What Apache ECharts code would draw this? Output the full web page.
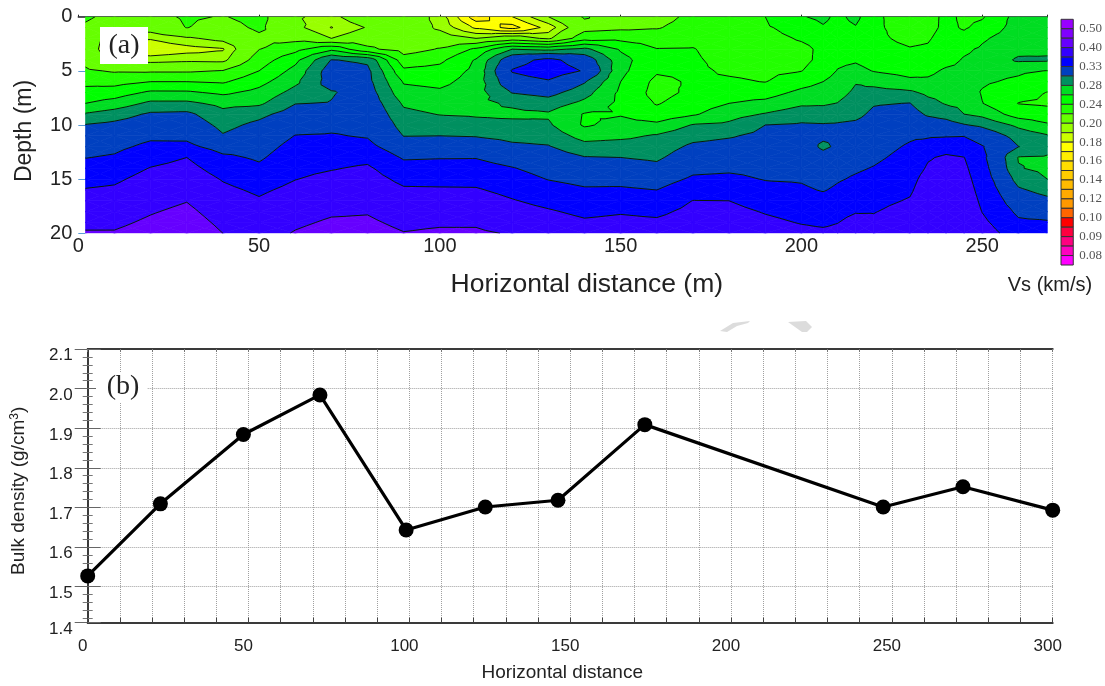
<!DOCTYPE html>
<html><head><meta charset="utf-8"><style>html,body{margin:0;padding:0;background:#fff}#c{width:1105px;height:686px}</style>
<script src="https://cdn.jsdelivr.net/npm/echarts@6/dist/echarts.min.js"></script></head><body><div id="c"></div><script>
// Panel (a): Vs (km/s) read from the section, one list per station, depth 0..20 m
const stations=[2,10,20,30,40,50,60,70,80,90,100,110,120,130,140,150,160,170,180,190,200,206,210,215,220,230,235,240,245,250,260,268];
const depths=[0,1,2,3,4,5,6,7,8,9,10,11,12,13,14,15,16,17,18,19,20];
const vsByStation=[
[.224,.216,.212,.212,.215,.2227,.2345,.247,.26,.282,.301,.3105,.3198,.3292,.34,.3508,.3616,.372,.3824,.3927,.403],
[.212,.205,.19,.185,.196,.218,.233,.25,.268,.29,.3055,.3145,.3236,.3332,.344,.3546,.3648,.374,.384,.393,.403],
[.214,.207,.191,.182,.195,.2175,.24,.2633,.2844,.3032,.3139,.3246,.3364,.3492,.3613,.3716,.3805,.3883,.3973,.406,.415],
[.2225,.2205,.198,.186,.197,.2175,.24,.263,.2844,.3047,.3141,.3234,.3369,.36,.3695,.3793,.389,.3988,.408,.417,.426],
[.219,.212,.204,.189,.196,.2208,.2376,.2562,.2745,.2858,.2942,.3017,.3183,.3356,.3467,.3578,.3667,.375,.3833,.3917,.40],
[.226,.2235,.216,.2195,.2295,.24,.2533,.2659,.2764,.2945,.305,.3121,.3193,.3264,.335,.345,.355,.3633,.37,.377,.384],
[.2015,.2035,.214,.2338,.2545,.2665,.2757,.2868,.2993,.3099,.3205,.3307,.3386,.3457,.3529,.3593,.3678,.3765,.3852,.3939,.4026],
[.196,.1895,.20,.2553,.301,.312,.31,.298,.301,.3142,.3247,.3318,.3406,.3494,.3582,.3674,.3767,.386,.3953,.4047,.414],
[.212,.201,.21,.2239,.296,.305,.3066,.3109,.3151,.3194,.3236,.3279,.3375,.3525,.3642,.3725,.3808,.3892,.3975,.4058,.4142],
[.212,.21,.21,.2117,.2283,.244,.2581,.2667,.2771,.285,.2922,.2994,.313,.3272,.34,.3525,.3638,.3732,.3826,.392,.4014],
[.195,.1975,.2071,.2214,.2357,.247,.2548,.2632,.2712,.2792,.2895,.30,.3157,.3286,.3404,.3519,.3632,.3738,.3845,.3952,.4059],
[.164,.178,.20,.2435,.2618,.265,.2683,.2715,.2748,.278,.2853,.2987,.3135,.3289,.3402,.3515,.3627,.3735,.3843,.3951,.4059],
[.18,.166,.209,.28,.318,.332,.318,.301,.283,.276,.2852,.2939,.3042,.3181,.3315,.3417,.3519,.3619,.3714,.3809,.397],
[.20,.184,.197,.275,.338,.345,.327,.3075,.29,.2775,.2828,.2921,.3014,.3106,.3198,.3291,.3404,.3519,.363,.373,.383],
[.222,.213,.232,.285,.315,.328,.302,.2877,.2748,.2585,.2575,.2722,.2871,.3011,.3118,.3225,.3331,.3434,.3538,.3641,.3745],
[.208,.216,.2345,.2575,.2675,.265,.26,.2562,.2555,.2585,.2665,.2755,.2887,.30,.311,.3222,.3336,.3457,.3576,.367,.3765],
[.212,.2185,.2305,.2406,.2445,.2425,.235,.233,.2385,.2477,.2644,.2821,.2893,.2964,.306,.318,.33,.342,.354,.365,.375],
[.225,.228,.234,.241,.243,.2435,.2425,.2445,.2505,.2575,.2812,.2932,.3041,.3137,.3233,.3341,.3477,.3605,.3677,.3745,.3815],
[.224,.226,.228,.23,.233,.2375,.2425,.2515,.26,.2718,.2841,.2979,.3077,.3166,.3255,.336,.348,.36,.3685,.3775,.3865],
[.24,.238,.235,.233,.233,.2355,.2395,.2517,.2652,.2815,.30,.3058,.3115,.3173,.323,.3288,.338,.348,.358,.3665,.3755],
[.2585,.247,.2415,.2365,.235,.2395,.2521,.2647,.2765,.2913,.3023,.3073,.3124,.3174,.3224,.3275,.3341,.3422,.3503,.3584,.368],
[.265,.258,.245,.243,.245,.25,.26,.2687,.2774,.2894,.3015,.304,.296,.308,.3155,.3212,.3283,.3393,.3484,.355,.366],
[.255,.253,.252,.252,.2555,.261,.2675,.2735,.2805,.2925,.302,.3025,.3035,.315,.322,.3275,.3343,.3425,.3512,.3592,.368],
[.266,.2585,.2555,.2555,.2575,.2666,.2788,.2835,.2891,.2947,.304,.3096,.3153,.3209,.3266,.3333,.3417,.35,.3583,.37,.38],
[.243,.243,.2435,.246,.2505,.259,.2738,.2869,.2983,.3044,.3096,.3148,.32,.3252,.3314,.3382,.345,.3518,.3586,.366,.373],
[.232,.233,.236,.241,.2465,.253,.2645,.2835,.3005,.3091,.3176,.3262,.3331,.3387,.3443,.3499,.3555,.3625,.3715,.3805,.39],
[.233,.234,.238,.2425,.2485,.2555,.2635,.2755,.2865,.297,.3123,.327,.3409,.3573,.3635,.3725,.3785,.383,.387,.391,.395],
[.2445,.2445,.248,.2525,.254,.2628,.268,.2732,.2784,.2917,.3094,.3281,.3486,.3645,.3691,.3745,.379,.383,.387,.391,.395],
[.2365,.238,.246,.257,.2615,.2635,.266,.271,.2755,.28,.3015,.329,.3445,.3605,.3655,.37,.374,.378,.382,.386,.39],
[.238,.2455,.2575,.2625,.2645,.2665,.2625,.2585,.2605,.2745,.2955,.3167,.3318,.3364,.341,.3456,.3502,.3547,.3593,.3665,.3745],
[.268,.269,.27,.274,.283,.263,.2565,.2475,.2395,.2505,.2755,.2915,.3005,.279,.281,.2915,.3032,.314,.3246,.3345,.345],
[.27,.278,.272,.276,.2825,.2595,.2475,.2395,.2375,.2469,.2629,.282,.287,.278,.276,.28,.2925,.3055,.319,.3327,.345]
];
// Colour scale, top to bottom: contour levels separate the cells
const vsLevels=[.50,.45,.40,.36,.33,.30,.28,.26,.24,.22,.20,.19,.18,.17,.16,.15,.14,.13,.12,.11,.10,.095,.09,.085,.08];
const vsColors=['#9900ff','#8000ff','#6600ff','#3300ff','#0000ff','#0040c0','#009060','#00dd22','#00ff00','#22ff00','#66ff00','#99ff00','#ccff00','#ffff00','#ffee00','#ffdd00','#ffcc00','#ffbb00','#ffaa00','#ff9900','#ff6600','#ff0000','#ff0040','#ff0080','#ff00c0','#ff00ff'];
const scaleLabels=['0.50','0.40','0.33','0.28','0.24','0.20','0.18','0.16','0.14','0.12','0.10','0.09','0.08'];
const scaleCells=vsColors.map((c,i)=>[i]);
const depthTicks=[5,10,15,20];
// Panel (b)
const densityX=[0,22.6,48.4,72.2,99,123.6,146.2,173.2,247.3,272.1,300];
const densityY=[1.527,1.709,1.884,1.984,1.643,1.701,1.718,1.909,1.701,1.752,1.693];
const densityTicks=[1.4088,1.5,1.6,1.7,1.8,1.9,2.0,2.1];
const distanceLabels=[0,50,100,150,200,250,300];

const sansFont='"Liberation Sans",Arial,sans-serif', serifFont='"Liberation Serif","Times New Roman",serif', ink='#222';

function clipTri(poly,level,keepAbove){
  const out=[];
  for(let i=0;i<poly.length;i++){
    const a=poly[i],b=poly[(i+1)%poly.length];
    const ia=keepAbove?a[2]>=level:a[2]<=level, ib=keepAbove?b[2]>=level:b[2]<=level;
    if(ia)out.push(a);
    if(ia!==ib){const t=(level-a[2])/(b[2]-a[2]);out.push([a[0]+t*(b[0]-a[0]),a[1]+t*(b[1]-a[1]),level]);}
  }
  return out;
}
function cellTriangles(i,j){
  const p=(ci,rj)=>[stations[ci],depths[rj],vsByStation[ci][rj]];
  const A=p(i,j),B=p(i+1,j),C=p(i+1,j+1),D=p(i,j+1);
  const M=[(A[0]+B[0])/2,(A[1]+D[1])/2,(A[2]+B[2]+C[2]+D[2])/4];
  return [[A,B,M],[B,C,M],[C,D,M],[D,A,M]];
}
const cells=[];
for(let i=0;i<stations.length-1;i++)for(let j=0;j<depths.length-1;j++)cells.push([i,j]);
function renderBands(params,api){
  const ch=[];
  cellTriangles(api.value(0),api.value(1)).forEach(tri=>{
    vsColors.forEach((col,k)=>{
      const hi=k===0?9:vsLevels[k-1], lo=k===vsLevels.length?-9:vsLevels[k];
      let poly=clipTri(tri,lo,true); if(poly.length<3)return;
      poly=clipTri(poly,hi,false); if(poly.length<3)return;
      ch.push({type:'polygon',shape:{points:poly.map(q=>api.coord([q[0],q[1]]))},style:{fill:col,stroke:col,lineWidth:.7}});
    });
  });
  return {type:'group',children:ch};
}
function renderLines(params,api){
  const ch=[];
  cellTriangles(api.value(0),api.value(1)).forEach(tri=>{
    vsLevels.forEach(lv=>{
      const pts=[];
      for(let e=0;e<3;e++){
        const a=tri[e],b=tri[(e+1)%3];
        if((a[2]<lv)!==(b[2]<lv)){const t=(lv-a[2])/(b[2]-a[2]);pts.push(api.coord([a[0]+t*(b[0]-a[0]),a[1]+t*(b[1]-a[1])]));}
      }
      if(pts.length===2)ch.push({type:'line',shape:{x1:pts[0][0],y1:pts[0][1],x2:pts[1][0],y2:pts[1][1]},style:{stroke:'#0a1a0a',lineWidth:1}});
    });
  });
  return {type:'group',children:ch};
}
function renderScale(params,api){
  const k=api.value(0),a=api.coord([0,k]),b=api.coord([1,k+1]);
  return {type:'rect',shape:{x:a[0],y:a[1],width:b[0]-a[0],height:b[1]-a[1]},style:{fill:vsColors[k],stroke:'#333',lineWidth:1}};
}

const frame={show:true,lineStyle:{color:'#3a3a3a',width:2}};
const dotted={show:true,lineStyle:{type:'dotted',color:'#a0a0a0',width:1}};
const option={
  animation:false,backgroundColor:'#fff',
  grid:[
    {left:78.3,top:16.7,width:969,height:216.6},
    {left:1061,top:19.3,width:12.3,height:245.7},
    {left:87.7,top:349,width:965,height:273.7}
  ],
  xAxis:[
    {gridIndex:0,type:'value',min:0,max:268,interval:50,name:'Horizontal distance (m)',nameLocation:'middle',nameGap:38,
     nameTextStyle:{fontFamily:sansFont,fontSize:26.5,color:ink,padding:[0,0,0,48]},
     axisLine:{show:true,lineStyle:{color:'#ccccff',width:1}},axisTick:{show:false},splitLine:{show:false},
     axisLabel:{fontFamily:sansFont,fontSize:20,color:ink,margin:3,showMaxLabel:false,hideOverlap:false}},
    {gridIndex:0,type:'value',position:'top',min:0,max:268,interval:50,axisLine:{show:true,lineStyle:{color:'#222',width:1.5}},
     axisTick:{show:true,inside:false,length:2,lineStyle:{color:'#222'}},axisLabel:{show:false},splitLine:{show:false}},
    {gridIndex:1,type:'value',min:0,max:1,show:false},
    {gridIndex:2,type:'value',min:0,max:300,interval:10,name:'Horizontal distance',nameLocation:'middle',nameGap:41,
     nameTextStyle:{fontFamily:sansFont,fontSize:19,color:ink,padding:[0,16,0,0]},
     axisLine:frame,axisTick:{show:true,inside:true,length:5,lineStyle:{color:'#444'}},splitLine:dotted,
     axisLabel:{customValues:distanceLabels,fontFamily:sansFont,fontSize:17,color:ink,margin:15,padding:[0,10,0,0],hideOverlap:false}},
    {gridIndex:2,type:'value',position:'top',min:0,max:300,interval:10,axisLine:frame,
     axisTick:{show:true,inside:true,length:3,lineStyle:{color:'#777'}},axisLabel:{show:false},splitLine:{show:false}}
  ],
  yAxis:[
    {gridIndex:0,type:'value',inverse:true,min:0,max:20,interval:5,name:'Depth (m)',nameLocation:'middle',nameGap:42,
     nameTextStyle:{fontFamily:sansFont,fontSize:23,color:ink,padding:[0,12,0,0]},
     axisLine:{show:false},axisTick:{show:true,inside:true,length:7,customValues:depthTicks,lineStyle:{color:'#5b9bd5',width:1}},splitLine:{show:false},
     axisLabel:{customValues:[0,5,10,15,20],fontFamily:sansFont,fontSize:20,color:ink,margin:6}},
    {gridIndex:1,type:'value',inverse:true,min:0,max:26,position:'right',axisLine:{show:false},axisTick:{show:false},splitLine:{show:false},
     axisLabel:{customValues:[1,3,5,7,9,11,13,15,17,19,21,23,25],formatter:v=>scaleLabels[(v-1)/2],fontFamily:serifFont,fontSize:13,color:'#555',margin:6,hideOverlap:false}},
    {gridIndex:2,type:'value',min:1.4088,max:2.1,name:'Bulk density (g/cm{sup|3})',nameLocation:'middle',nameGap:58,
     nameTextStyle:{fontFamily:sansFont,fontSize:19,color:ink,padding:[0,10,0,0],rich:{sup:{fontFamily:sansFont,fontSize:12,color:ink,padding:[0,0,9,0]}}},
     axisLine:frame,axisTick:{show:true,inside:true,length:13,customValues:densityTicks,lineStyle:{color:'#666'}},
     minorTick:{show:true,splitNumber:5,length:5,lineStyle:{color:'#777'}},splitLine:dotted,
     axisLabel:{customValues:densityTicks,formatter:v=>v.toFixed(1),fontFamily:sansFont,fontSize:17,color:ink,margin:15,lineHeight:13.4,verticalAlign:'top',hideOverlap:false}},
    {gridIndex:2,type:'value',position:'right',min:1.4088,max:2.1,axisLine:frame,axisTick:{show:true,inside:true,length:13,customValues:densityTicks,lineStyle:{color:'#666'}},
     minorTick:{show:true,splitNumber:5,length:5,lineStyle:{color:'#777'}},axisLabel:{show:false},splitLine:{show:false}}
  ],
  series:[
    {type:'custom',name:'Vs bands',xAxisIndex:0,yAxisIndex:0,clip:true,renderItem:renderBands,data:cells,silent:true,z:2},
    {type:'custom',name:'Vs contours',xAxisIndex:0,yAxisIndex:0,clip:true,renderItem:renderLines,data:cells,silent:true,z:3},
    {type:'custom',name:'Vs scale',xAxisIndex:2,yAxisIndex:1,renderItem:renderScale,data:scaleCells,encode:{y:0},silent:true},
    {type:'line',name:'Bulk density',xAxisIndex:3,yAxisIndex:2,clip:false,data:densityX.map((x,i)=>[x,densityY[i]]),
     symbol:'circle',symbolSize:15,lineStyle:{color:'#000',width:3.2},itemStyle:{color:'#000'},z:5}
  ],
  graphic:[
    {type:'rect',z:50,shape:{x:100,y:27,width:48,height:37},style:{fill:'#fff'}},
    {type:'text',z:51,x:124,y:46,style:{text:'(a)',font:'28px '+serifFont,fill:'#222',textAlign:'center',textVerticalAlign:'middle'}},
    {type:'rect',z:50,shape:{x:96,y:372,width:51,height:31},style:{fill:'#fff'}},
    {type:'text',z:51,x:123,y:387,style:{text:'(b)',font:'28px '+serifFont,fill:'#222',textAlign:'center',textVerticalAlign:'middle'}},
    {type:'text',z:51,x:1050,y:285,style:{text:'Vs (km/s)',font:'20px '+sansFont,fill:'#222',textAlign:'center',textVerticalAlign:'middle'}},
    {type:'polygon',z:1,shape:{points:[[720,331],[733,323],[750,321],[748,323],[737,326],[727,332]]},style:{fill:'#dcdcdc'}},
    {type:'polygon',z:1,shape:{points:[[788,322],[806,321],[812,327],[807,332],[802,332]]},style:{fill:'#dcdcdc'}}
  ]
};
echarts.init(document.getElementById('c'),null,{renderer:'canvas'}).setOption(option);
</script></body></html>
